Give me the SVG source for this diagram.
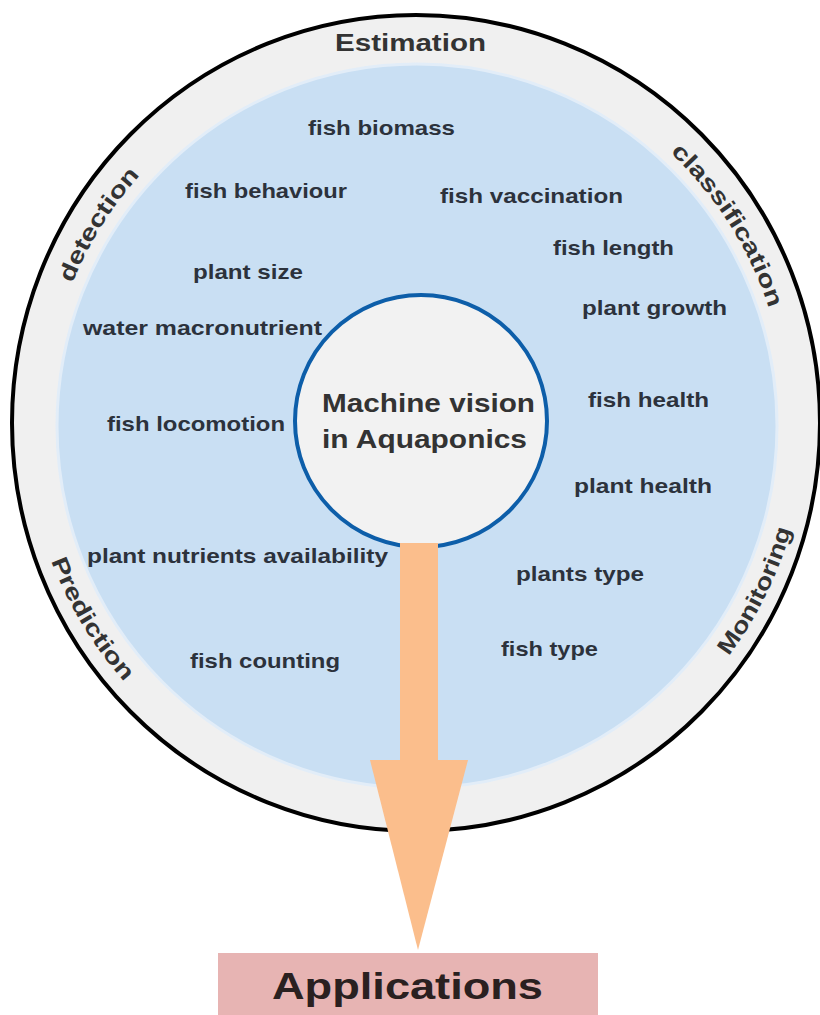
<svg xmlns="http://www.w3.org/2000/svg" width="820" height="1015" viewBox="0 0 820 1015">
<style>
.lbl{font-family:"Liberation Sans",Arial,sans-serif;font-weight:bold;font-size:21px;fill:#2c323c}
.ring{font-family:"Liberation Sans",Arial,sans-serif;font-weight:bold;font-size:23px;fill:#333333}
.center{font-family:"Liberation Sans",Arial,sans-serif;font-weight:bold;font-size:26px;fill:#333333}
.app{font-family:"Liberation Sans",Arial,sans-serif;font-weight:bold;font-size:37px;fill:#2a2020}
</style>
<defs>
<path id="topArc" d="M 45 423 A 371 371 0 0 1 787 423"/>
<path id="botArc" d="M 26 423 A 390 390 0 0 0 806 423"/>
</defs>
<rect width="820" height="1015" fill="#ffffff"/>
<g id="outer-ring">
<ellipse cx="416" cy="423" rx="404" ry="408" fill="#f0f0f0" stroke="#000000" stroke-width="4"/>
<ellipse cx="417" cy="426" rx="360" ry="362" fill="#c9dff3" stroke="#e2edf8" stroke-width="3"/>
</g>
<g id="ring-labels">
<text class="ring" x="335" y="51" textLength="151" lengthAdjust="spacingAndGlyphs">Estimation</text>
<text class="ring"><textPath href="#topArc" startOffset="17.8%" text-anchor="middle" textLength="128" lengthAdjust="spacingAndGlyphs">detection</textPath></text>
<text class="ring"><textPath href="#topArc" startOffset="82%" text-anchor="middle" textLength="186" lengthAdjust="spacingAndGlyphs">classification</textPath></text>
<text class="ring"><textPath href="#botArc" startOffset="17.3%" text-anchor="middle" textLength="142" lengthAdjust="spacingAndGlyphs">Prediction</textPath></text>
<text class="ring"><textPath href="#botArc" startOffset="85.4%" text-anchor="middle" textLength="142" lengthAdjust="spacingAndGlyphs">Monitoring</textPath></text>
</g>
<g id="topics">
<text class="lbl" x="308" y="135" textLength="147" lengthAdjust="spacingAndGlyphs">fish biomass</text>
<text class="lbl" x="185" y="198" textLength="162" lengthAdjust="spacingAndGlyphs">fish behaviour</text>
<text class="lbl" x="440" y="203" textLength="183" lengthAdjust="spacingAndGlyphs">fish vaccination</text>
<text class="lbl" x="553" y="255" textLength="121" lengthAdjust="spacingAndGlyphs">fish length</text>
<text class="lbl" x="193" y="279" textLength="110" lengthAdjust="spacingAndGlyphs">plant size</text>
<text class="lbl" x="582" y="315" textLength="145" lengthAdjust="spacingAndGlyphs">plant growth</text>
<text class="lbl" x="83" y="335" textLength="239" lengthAdjust="spacingAndGlyphs">water macronutrient</text>
<text class="lbl" x="588" y="407" textLength="121" lengthAdjust="spacingAndGlyphs">fish health</text>
<text class="lbl" x="107" y="431" textLength="178" lengthAdjust="spacingAndGlyphs">fish locomotion</text>
<text class="lbl" x="574" y="493" textLength="138" lengthAdjust="spacingAndGlyphs">plant health</text>
<text class="lbl" x="87" y="563" textLength="301" lengthAdjust="spacingAndGlyphs">plant nutrients availability</text>
<text class="lbl" x="516" y="581" textLength="128" lengthAdjust="spacingAndGlyphs">plants type</text>
<text class="lbl" x="501" y="656" textLength="97" lengthAdjust="spacingAndGlyphs">fish type</text>
<text class="lbl" x="190" y="668" textLength="150" lengthAdjust="spacingAndGlyphs">fish counting</text>
</g>
<g id="center-node">
<circle cx="421" cy="421" r="126" fill="#f2f2f2" stroke="#0d5ea9" stroke-width="4"/>
<text class="center" x="322" y="412" textLength="213" lengthAdjust="spacingAndGlyphs">Machine vision</text>
<text class="center" x="322" y="448" textLength="205" lengthAdjust="spacingAndGlyphs">in Aquaponics</text>
</g>
<g id="connectors">
<rect x="400" y="543" width="38" height="219" fill="#fbbe8c"/>
<polygon points="370,760 468,760 418,950" fill="#fbbe8c"/>
</g>
<g id="applications-node">
<rect x="218" y="953" width="380" height="70" fill="#e7b4b3"/>
<text class="app" x="272" y="999" textLength="271" lengthAdjust="spacingAndGlyphs">Applications</text>
</g>
</svg>
